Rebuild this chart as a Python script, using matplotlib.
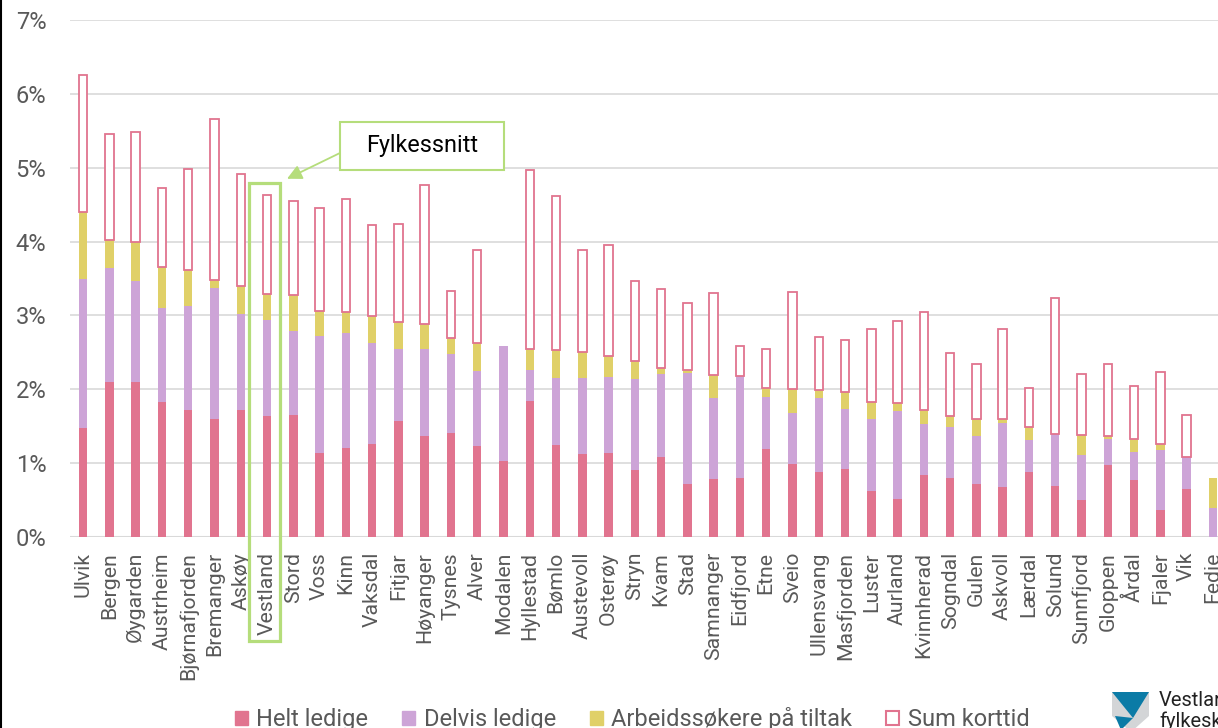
import numpy as np
import matplotlib
matplotlib.use("Agg")
import matplotlib.pyplot as plt
from matplotlib.patches import Rectangle, Patch, Polygon

plt.rcParams['font.family'] = ['Roboto', 'DejaVu Sans']

# data (percent of labour force)
kommuner = ["Ulvik", "Bergen", "Øygarden", "Austrheim", "Bjørnafjorden", "Bremanger", "Askøy",
            "Vestland", "Stord", "Voss", "Kinn", "Vaksdal", "Fitjar", "Høyanger", "Tysnes", "Alver",
            "Modalen", "Hyllestad", "Bømlo", "Austevoll", "Osterøy", "Stryn", "Kvam", "Stad",
            "Samnanger", "Eidfjord", "Etne", "Sveio", "Ullensvang", "Masfjorden", "Luster", "Aurland",
            "Kvinnherad", "Sogndal", "Gulen", "Askvoll", "Lærdal", "Solund", "Sunnfjord", "Gloppen",
            "Årdal", "Fjaler", "Vik", "Fedje"]
helt = [1.47, 2.09, 2.09, 1.83, 1.72, 1.60, 1.72, 1.64, 1.65, 1.13, 1.20, 1.26, 1.57, 1.37, 1.41, 1.23,
        1.03, 1.84, 1.24, 1.12, 1.14, 0.91, 1.08, 0.72, 0.78, 0.79, 1.19, 0.99, 0.88, 0.92, 0.62, 0.51,
        0.84, 0.80, 0.72, 0.67, 0.87, 0.69, 0.50, 0.97, 0.77, 0.36, 0.64, 0.0]
delvis = [2.02, 1.55, 1.37, 1.27, 1.40, 1.77, 1.30, 1.30, 1.14, 1.59, 1.56, 1.37, 0.97, 1.17, 1.07, 1.01,
          1.55, 0.42, 0.91, 1.03, 1.02, 1.23, 1.13, 1.50, 1.10, 1.39, 0.70, 0.69, 1.00, 0.81, 0.98, 1.19,
          0.69, 0.68, 0.65, 0.87, 0.44, 0.70, 0.61, 0.36, 0.38, 0.82, 0.44, 0.39]
tiltak = [0.91, 0.38, 0.54, 0.56, 0.50, 0.11, 0.38, 0.35, 0.48, 0.34, 0.28, 0.36, 0.37, 0.34, 0.21, 0.38,
          0.0, 0.28, 0.38, 0.35, 0.29, 0.24, 0.07, 0.04, 0.31, 0.0, 0.13, 0.32, 0.11, 0.23, 0.22, 0.11,
          0.19, 0.15, 0.23, 0.05, 0.17, 0.0, 0.27, 0.03, 0.18, 0.08, 0.0, 0.40]
korttid = [1.85, 1.43, 1.49, 1.07, 1.36, 2.18, 1.51, 1.34, 1.28, 1.40, 1.53, 1.23, 1.33, 1.88, 0.64, 1.27,
           0.0, 2.43, 2.09, 1.38, 1.50, 1.08, 1.07, 0.91, 1.11, 0.40, 0.52, 1.31, 0.71, 0.71, 0.99, 1.11,
           1.32, 0.86, 0.74, 1.22, 0.53, 1.85, 0.83, 0.98, 0.71, 0.97, 0.57, 0.0]

PINK = "#E1748F"
LILLA = "#CDA4D7"
GUL = "#E0D068"
GRONN = "#B5DD7B"
GRAA = "#595959"

W, H = 1218, 728
fig = plt.figure(figsize=(W / 100, H / 100), dpi=100)
ax = fig.add_axes([70 / W, (H - 536.7) / H, 1156 / W, (536.7 - 20.1) / H])

x = np.arange(len(kommuner))
helt = np.array(helt)
delvis = np.array(delvis)
tiltak = np.array(tiltak)
korttid = np.array(korttid)
bw = 0.32

ax.bar(x, helt, bw, color=PINK, zorder=3)
ax.bar(x, delvis, bw, bottom=helt, color=LILLA, zorder=3)
ax.bar(x, tiltak, bw, bottom=helt + delvis, color=GUL, zorder=3)
m = korttid > 0
ax.bar(x[m], korttid[m], bw, bottom=(helt + delvis + tiltak)[m], facecolor="white",
       edgecolor=PINK, linewidth=1.3, zorder=3)

ax.set_xlim(-0.5, len(kommuner) - 0.5)
ax.set_ylim(0, 7)
ax.set_yticks(range(0, 8))
ax.set_yticklabels([f"{i}%" for i in range(0, 8)])
ax.set_xticks(x)
ax.set_xticklabels(kommuner, rotation=90, va="top", ha="center")
ax.tick_params(axis="x", length=0, pad=11, labelsize=15.3, labelcolor=GRAA)
ax.tick_params(axis="y", length=0, pad=17, labelsize=17, labelcolor=GRAA)
ax.grid(axis="y", color="#D9D9D9", linewidth=1.2, zorder=0)
for s in ax.spines.values():
    s.set_visible(False)
ax.axhline(0, color="#D9D9D9", linewidth=1.5, zorder=2)

# ramme rundt Vestland + fylkessnitt-boks
ax.add_patch(Rectangle((6.295, -1.42), 1.18, 6.21, fill=False, edgecolor=GRONN,
                       linewidth=2.3, clip_on=False, zorder=5))
ax.add_patch(Rectangle((9.78, 4.97), 6.24, 0.65, facecolor="white", edgecolor=GRONN,
                       linewidth=1.5, clip_on=False, zorder=5))
ax.text(12.9, 5.295, "Fylkessnitt", fontsize=16.8, color="black", ha="center", va="center", zorder=6)
ax.annotate("", xy=(7.76, 4.85), xytext=(9.78, 5.20),
            arrowprops=dict(arrowstyle="-|>", color=GRONN, lw=1.3, mutation_scale=22,
                            shrinkA=0, shrinkB=0), zorder=6)

# legend
handles = [Patch(facecolor=PINK, edgecolor=PINK),
           Patch(facecolor=LILLA, edgecolor=LILLA),
           Patch(facecolor=GUL, edgecolor=GUL),
           Patch(facecolor="white", edgecolor=PINK, linewidth=1.5)]
labels = ["Helt ledige", "Delvis ledige", "Arbeidssøkere på tiltak", "Sum korttid"]
fig.legend(handles, labels, loc="center", bbox_to_anchor=(0.519, 0.012), ncol=4, frameon=False,
           fontsize=17, labelcolor=GRAA, handlelength=0.55, handleheight=0.55,
           handletextpad=0.35, columnspacing=1.45, borderpad=0)

# logo (skjold + tekst), kuttet i høyre kant
def fx(px):
    return px / W

def fy(py):
    return (H - py) / H

fig.patches.append(Polygon([(fx(1112), fy(692)), (fx(1149), fy(692)), (fx(1149), fy(716)),
                            (fx(1131), fy(732)), (fx(1112), fy(716))],
                           closed=True, transform=fig.transFigure, facecolor="#D3D5D7", edgecolor="none"))
fig.patches.append(Polygon([(fx(1112), fy(692)), (fx(1149), fy(692)), (fx(1133), fy(718))],
                           closed=True, transform=fig.transFigure, facecolor="#0B7BA6", edgecolor="none"))
fig.patches.append(Polygon([(fx(1115), fy(716)), (fx(1133), fy(718)), (fx(1121), fy(730))],
                           closed=True, transform=fig.transFigure, facecolor="#0B7BA6", edgecolor="none"))
fig.text(fx(1159), fy(700), "Vestland", fontsize=14.5, color="#222222", va="center", ha="left")
fig.text(fx(1159), fy(721), "fylkeskommune", fontsize=14.5, color="#222222", va="center", ha="left")

# svart kant til venstre
fig.add_artist(plt.Line2D([0.0008, 0.0008], [0, 1], transform=fig.transFigure, color="black", lw=1.5))

fig.savefig("out.png", dpi=100)
